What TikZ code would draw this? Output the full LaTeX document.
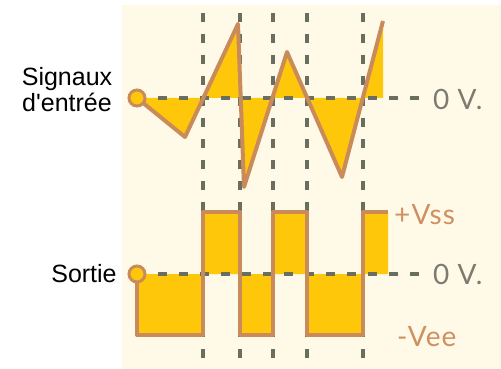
\documentclass[tikz,border=0pt]{standalone}
\usepackage{fontspec}
\setmainfont{Liberation Sans}[Ligatures=TeXOff]
\newfontfamily\labelfont{Lato}[LetterSpace=4]
\definecolor{cream}{HTML}{FFFAE8}
\definecolor{wavefill}{HTML}{FFC70A}
\definecolor{wavestroke}{HTML}{C98B5A}
\definecolor{dashgray}{HTML}{6A6E60}
\definecolor{voltgray}{HTML}{7B7B72}
\definecolor{volttan}{HTML}{D08F60}
\tikzset{
  guide/.style={draw=dashgray, line width=3.2pt, dash pattern=on 9pt off 12pt},
  wave/.style={draw=wavestroke, line width=4pt, line join=round},
  lobe/.style={fill=wavefill},
  startdot/.style={circle, draw=wavestroke, fill=wavefill, line width=3pt, minimum size=16pt, inner sep=0pt},
  sidelabel/.style={font=\fontsize{25}{26}\selectfont, text=black, inner sep=0pt, align=center},
  voltlabel/.style={font=\labelfont\fontsize{28}{30}\selectfont, inner sep=0pt, anchor=west},
}
\begin{document}
\begin{tikzpicture}[x=1pt,y=-1pt]
\useasboundingbox (0,0) rectangle (501,369);
\fill[cream] (122,5) rectangle (501,369);

% coordinates of the input wave
\coordinate (i0) at (137,98);
\coordinate (i1) at (185,137);
\coordinate (i2) at (238,24);
\coordinate (i3) at (244,187);
\coordinate (i4) at (287,52);
\coordinate (i5) at (342,177);
\coordinate (i6) at (383,21);
\coordinate (i7) at (383,98);
% output wave
\coordinate (o0) at (137,274);
\coordinate (oe) at (388,274);

% fills
\fill[lobe] (i0) -- (i1) -- (i2) -- (i3) -- (i4) -- (i5) -- (i6) -- (i7) -- cycle;
\fill[lobe] (o0) -- (137,335) -- (203,335) -- (203,212) -- (240,212) -- (240,335) -- (273,335) -- (273,212) -- (307,212) -- (307,335) -- (363,335) -- (363,212) -- (388,212) -- (oe) -- cycle;

% guide lines
\coordinate (h1) at (428,98);
\coordinate (h2) at (428,274);
\draw[guide] (i0) -- (h1);
\draw[guide] (o0) -- (h2);
\foreach \x/\n in {203/a,240/b,273/c,307/d,363/e}{
  \coordinate (t\n) at (\x,13);
  \coordinate (b\n) at (\x,358);
  \draw[guide] (t\n) -- (b\n);
}

% wave strokes
\draw[wave] (i0) -- (i1) -- (i2) -- (i3) -- (i4) -- (i5) -- (i6);
\draw[wave] (o0) -- (137,335) -- (203,335) -- (203,212) -- (240,212) -- (240,335) -- (273,335) -- (273,212) -- (307,212) -- (307,335) -- (363,335) -- (363,212) -- (388,212);

\node[startdot] (inDot) at (i0) {};
\node[startdot] (outDot) at (o0) {};

% labels
\node[sidelabel] (inLabel) at (67,90) {Signaux\\d'entrée};
\node[sidelabel] (outLabel) at (84,274) {Sortie};
\node[voltlabel, text=voltgray] (zeroIn) at (433,99) {0 V.};
\node[voltlabel, text=voltgray] (zeroOut) at (433,274) {0 V.};
\node[voltlabel, text=volttan] (vss) at (394,215) {+Vss};
\node[voltlabel, text=volttan] (vee) at (397,337) {-Vee};
\end{tikzpicture}
\end{document}
